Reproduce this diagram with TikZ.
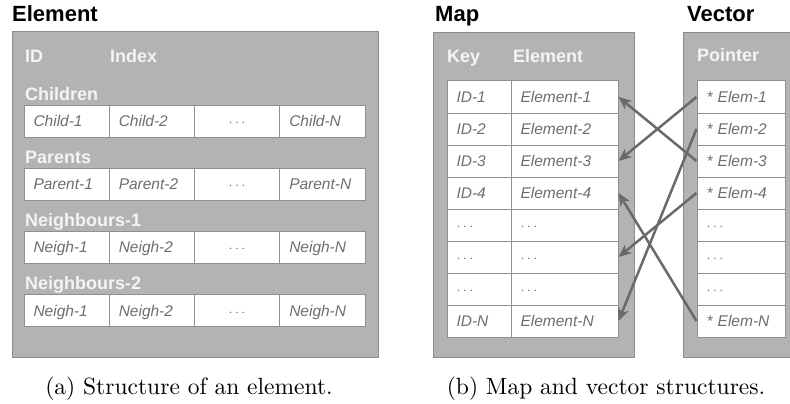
\documentclass[tikz,border=0pt]{standalone}
\usepackage{fontspec}
\newfontfamily\hsans{Liberation Sans}
\newfontfamily\capfont{lmroman10-regular.otf}
\usetikzlibrary{arrows.meta}
\definecolor{panelgray}{HTML}{B3B3B3}
\definecolor{panelline}{HTML}{8C8C8C}
\definecolor{celline}{HTML}{909090}
\definecolor{celltext}{HTML}{6E6E6E}
\definecolor{labeltext}{HTML}{F4F4F4}
\definecolor{arrowgray}{HTML}{6A6A6A}
\begin{document}
\begin{tikzpicture}[x=1pt,y=-1pt,
  panel/.style={draw=panelline, fill=panelgray, line width=1pt, inner sep=0pt},
  title/.style={font=\hsans\bfseries\fontsize{22}{26}\selectfont, anchor=base west, inner sep=0pt},
  hdr/.style={font=\hsans\bfseries\fontsize{18}{21}\selectfont, text=labeltext, anchor=base west, inner sep=0pt},
  cell/.style={draw=celline, fill=white, line width=1pt, font=\hsans\itshape\fontsize{15.5}{18}\selectfont, text=celltext, minimum height=32pt, text height=11pt, text depth=0pt, inner ysep=0pt, align=left, inner xsep=9.5pt},
  lcell/.style={cell, text width=66.25pt},
  dcell/.style={lcell, align=center},
  kcell/.style={cell, text width=45pt},
  ecell/.style={cell, text width=88pt},
  pcell/.style={cell, text width=69pt},
  caption/.style={font=\capfont\fontsize{23.5}{27}\selectfont, anchor=base, inner sep=0pt},
  arr/.style={draw=arrowgray, line width=2.5pt, -{Stealth[length=13pt,width=11pt,inset=4pt]}}
]
\useasboundingbox (0,0) rectangle (790,404);
\clip (0,0) rectangle (790,404);
% ---------- (a) Element ----------
\node[title] (tElem) at (12,22) {Element};
\node[panel, minimum width=366pt, minimum height=325pt] (elem) at (195,194.5) {};
\node[hdr] (lid) at (25,62.5) {ID};
\node[hdr] (lidx) at (110,62.5) {Index};
\node[hdr] (lch) at (25,100) {Children};
\node[hdr] (lpa) at (25,163) {Parents};
\node[hdr] (ln1) at (25,226) {Neighbours-1};
\node[hdr] (ln2) at (25,289) {Neighbours-2};
% children
\node[lcell] (ch1) at (66.625,121) {Child-1};
\node[lcell] (ch2) at (151.875,121) {Child-2};
\node[dcell] (ch3) at (237.125,121) {$\cdots$};
\node[lcell] (ch4) at (322.375,121) {Child-N};
% parents
\node[lcell] (pa1) at (66.625,184) {Parent-1};
\node[lcell] (pa2) at (151.875,184) {Parent-2};
\node[dcell] (pa3) at (237.125,184) {$\cdots$};
\node[lcell] (pa4) at (322.375,184) {Parent-N};
% neighbours-1
\node[lcell] (na1) at (66.625,247) {Neigh-1};
\node[lcell] (na2) at (151.875,247) {Neigh-2};
\node[dcell] (na3) at (237.125,247) {$\cdots$};
\node[lcell] (na4) at (322.375,247) {Neigh-N};
% neighbours-2
\node[lcell] (nb1) at (66.625,310.5) {Neigh-1};
\node[lcell] (nb2) at (151.875,310.5) {Neigh-2};
\node[dcell] (nb3) at (237.125,310.5) {$\cdots$};
\node[lcell] (nb4) at (322.375,310.5) {Neigh-N};
\node[caption] (capa) at (189,394) {(a) Structure of an element.};
% ---------- (b) Map and Vector ----------
\node[title] (tMap) at (435,22) {Map};
\node[title] (tVec) at (687,22) {Vector};
\node[panel, minimum width=201pt, minimum height=324pt] (map) at (533.5,195) {};
\node[panel, minimum width=117pt, minimum height=324pt] (vec) at (741.5,195) {};
\node[hdr] (lkey) at (447,63) {Key};
\node[hdr] (lelt) at (513,63) {Element};
\node[hdr] (lptr) at (697,62) {Pointer};
% map rows
\node[kcell] (k1) at (479,97) {ID-1};   \node[ecell] (e1) at (564.5,97) {Element-1};
\node[kcell] (k2) at (479,129) {ID-2};  \node[ecell] (e2) at (564.5,129) {Element-2};
\node[kcell] (k3) at (479,161) {ID-3};  \node[ecell] (e3) at (564.5,161) {Element-3};
\node[kcell] (k4) at (479,193) {ID-4};  \node[ecell] (e4) at (564.5,193) {Element-4};
\node[kcell] (k5) at (479,225) {$\cdots$};  \node[ecell] (e5) at (564.5,225) {$\cdots$};
\node[kcell] (k6) at (479,257) {$\cdots$};  \node[ecell] (e6) at (564.5,257) {$\cdots$};
\node[kcell] (k7) at (479,289) {$\cdots$};  \node[ecell] (e7) at (564.5,289) {$\cdots$};
\node[kcell] (kN) at (479,321) {ID-N};  \node[ecell] (eN) at (564.5,321) {Element-N};
% vector rows
\node[pcell] (v1) at (741,97) {* Elem-1};
\node[pcell] (v2) at (741,129) {* Elem-2};
\node[pcell] (v3) at (741,161) {* Elem-3};
\node[pcell] (v4) at (741,193) {* Elem-4};
\node[pcell] (v5) at (741,225) {$\cdots$};
\node[pcell] (v6) at (741,257) {$\cdots$};
\node[pcell] (v7) at (741,289) {$\cdots$};
\node[pcell] (vN) at (741,321) {* Elem-N};
\node[caption] (capb) at (606,394) {(b) Map and vector structures.};
% arrows
\draw[arr] (v1.west) -- (e3.east);
\draw[arr] (v3.west) -- (e1.east);
\draw[arr] (v2.west) -- (eN.east);
\draw[arr] (v4.west) -- (e6.east);
\draw[arr] (vN.west) -- (e4.east);
\end{tikzpicture}
\end{document}
